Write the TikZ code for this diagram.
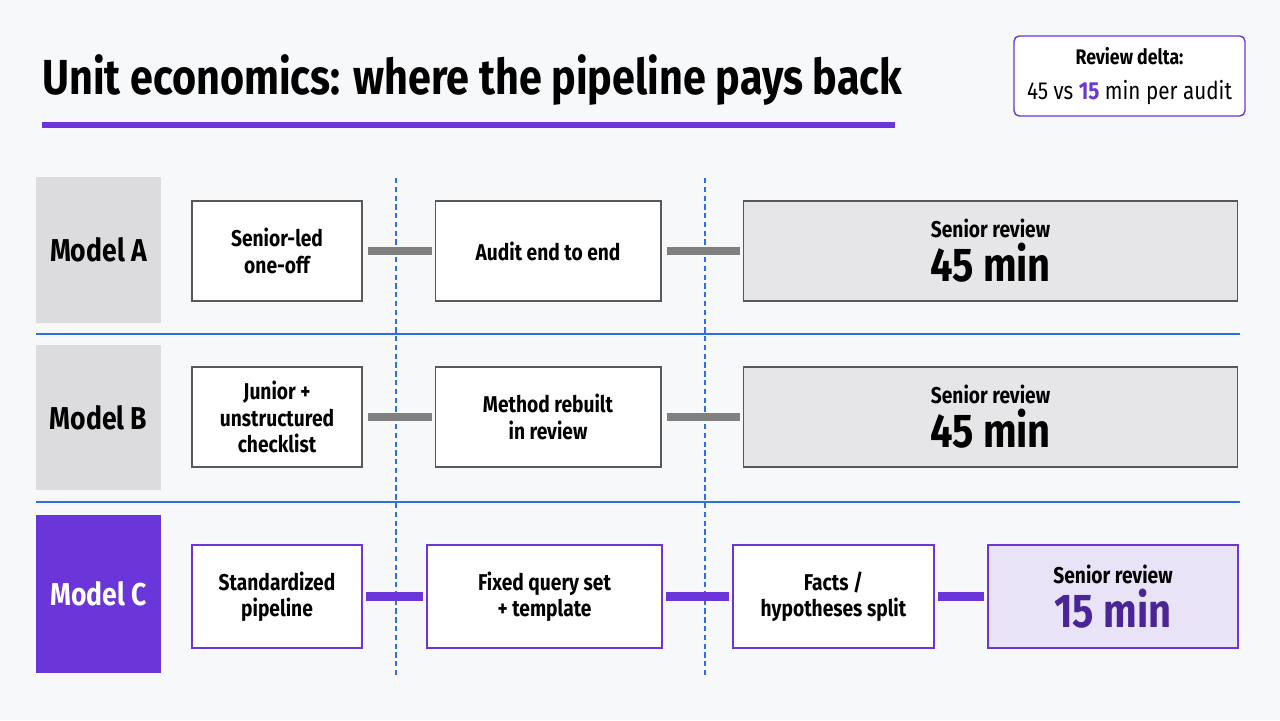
\documentclass[tikz,border=0pt]{standalone}
\usepackage{fontspec}
\setmainfont[FakeStretch=0.84]{Fira Sans}
\usetikzlibrary{positioning}
\definecolor{brand}{HTML}{6A35D9}
\definecolor{bgc}{HTML}{F7F8FA}
\definecolor{rowgray}{HTML}{DCDCDE}
\definecolor{lilac}{HTML}{E9E3F8}
\definecolor{sepblue}{HTML}{2F6FE0}
\definecolor{bargray}{HTML}{808080}
\begin{document}
\begin{tikzpicture}[x=0.02cm, y=-0.02cm,
    stage/.style={draw=gray!70!black, fill=white, line width=0.6pt, align=center, inner sep=0pt,
      font=\fontsize{13}{15}\selectfont\bfseries},
    stagec/.style={stage, draw=brand, line width=0.9pt},
    rowlabel/.style={font=\fontsize{18}{22}\selectfont\bfseries, inner sep=0pt},
    link/.style={line width=5pt, bargray},
    linkc/.style={link, brand}]
  \useasboundingbox[fill=bgc] (0,0) rectangle (1280,720);
  % title
  \node[anchor=west, inner sep=0pt, font=\fontsize{28}{32}\selectfont\bfseries] (title) at (42,80)
    {Unit economics: where the pipeline pays back};
  \draw[brand, line width=3pt] (42,125) -- (895,125);
  \node[draw=brand, fill=white, rounded corners=3pt, line width=0.8pt, minimum width=4.62cm,
    minimum height=1.6cm, align=center, font=\fontsize{12}{20}\selectfont] (delta) at (1129.5,76)
    {\textbf{Review delta:}\\{\fontsize{14}{20}\selectfont 45 vs \textcolor{brand}{\textbf{15}} min per audit}};
  % row labels
  \fill[rowgray] (36,177) rectangle (161,323);
  \fill[rowgray] (36,345) rectangle (161,490);
  \fill[brand] (36,515) rectangle (161,673);
  \node[rowlabel] (la) at (98.5,250) {Model A};
  \node[rowlabel] (lb) at (98.5,418) {Model B};
  \node[rowlabel, white] (lc) at (98.5,594) {Model C};
  % separators
  \draw[sepblue, line width=0.6pt] (36,334) -- (1240,334);
  \draw[sepblue, line width=0.6pt] (36,502) -- (1240,502);
  \draw[sepblue, densely dashed, line width=0.6pt] (396,178) -- (396,678);
  \draw[sepblue, densely dashed, line width=0.6pt] (705,178) -- (705,678);
  % model A
  \node[stage, minimum width=3.4cm, minimum height=2cm] (a1) at (277,251) {Senior-led\\one-off};
  \node[stage, minimum width=4.52cm, minimum height=2cm] (a2) at (548,251) {Audit end to end};
  \node[stage, fill=rowgray!70, minimum width=9.9cm, minimum height=2cm] (a3) at (990.5,251)
    {Senior review\\[2pt]{\fontsize{27}{30}\selectfont 45 min}};
  \draw[link] ([xshift=0.1cm]a1.east) -- ([xshift=-0.06cm]a2.west);
  \draw[link] ([xshift=0.1cm]a2.east) -- ([xshift=-0.06cm]a3.west);
  % model B
  \node[stage, minimum width=3.4cm, minimum height=2cm] (b1) at (277,417) {Junior +\\unstructured\\checklist};
  \node[stage, minimum width=4.52cm, minimum height=2cm] (b2) at (548,417) {Method rebuilt\\in review};
  \node[stage, fill=rowgray!70, minimum width=9.9cm, minimum height=2cm] (b3) at (990.5,417)
    {Senior review\\[2pt]{\fontsize{27}{30}\selectfont 45 min}};
  \draw[link] ([xshift=0.1cm]b1.east) -- ([xshift=-0.06cm]b2.west);
  \draw[link] ([xshift=0.1cm]b2.east) -- ([xshift=-0.06cm]b3.west);
  % model C
  \node[stagec, minimum width=3.4cm, minimum height=2.06cm] (c1) at (277,596.5) {Standardized\\pipeline};
  \node[stagec, minimum width=4.7cm, minimum height=2.06cm] (c2) at (544.5,596.5) {Fixed query set\\+ template};
  \node[stagec, minimum width=4.02cm, minimum height=2.06cm] (c3) at (833.5,596.5) {Facts /\\hypotheses split};
  \node[stagec, fill=lilac, minimum width=5cm, minimum height=2.06cm] (c4) at (1113,596.5)
    {Senior review\\[2pt]{\fontsize{27}{30}\selectfont\color{brand!70!black}15 min}};
  \draw[linkc] ([xshift=0.06cm]c1.east) -- ([xshift=-0.06cm]c2.west);
  \draw[linkc] ([xshift=0.06cm]c2.east) -- ([xshift=-0.06cm]c3.west);
  \draw[linkc] ([xshift=0.06cm]c3.east) -- ([xshift=-0.06cm]c4.west);
\end{tikzpicture}
\end{document}
